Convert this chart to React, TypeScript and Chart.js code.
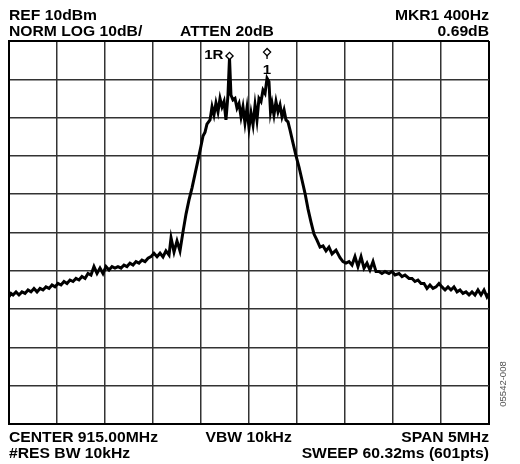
import React, { useEffect, useRef } from "react";
import { Chart, registerables } from "chart.js";

Chart.register(...registerables);

// Frequency offset from center (kHz) and trace level (dBm)
const freqKHz = [
  -2500, -2479, -2458, -2427, -2396, -2365, -2333, -2302, -2271, -2240,
  -2208, -2177, -2146, -2115, -2083, -2052, -2021, -1990, -1958, -1927,
  -1896, -1865, -1833, -1802, -1771, -1740, -1708, -1677, -1646, -1615,
  -1583, -1552, -1521, -1490, -1458, -1427, -1396, -1365, -1333, -1302,
  -1271, -1240, -1208, -1177, -1146, -1115, -1083, -1052, -1021, -990,
  -958, -927, -896, -865, -833, -812, -781, -750, -719, -688,
  -656, -625, -594, -562, -531, -500, -479, -458, -438, -406,
  -385, -365, -344, -323, -302, -281, -260, -240, -219, -203,
  -188, -167, -146, -125, -104, -83, -63, -42, -21, 0,
  21, 42, 63, 83, 104, 125, 146, 167, 188, 208,
  224, 240, 260, 281, 302, 323, 344, 365, 385, 406,
  427, 458, 490, 521, 552, 583, 615, 646, 677, 708,
  740, 771, 802, 833, 865, 906, 948, 979, 1010, 1042,
  1073, 1104, 1135, 1167, 1198, 1229, 1260, 1292, 1323, 1354,
  1385, 1417, 1458, 1490, 1521, 1563, 1594, 1625, 1667, 1698,
  1729, 1760, 1792, 1823, 1854, 1885, 1917, 1948, 1979, 2010,
  2042, 2073, 2104, 2135, 2167, 2198, 2229, 2260, 2292, 2323,
  2354, 2385, 2417, 2448, 2479, 2500,
];

const levelDbm = [
  -56.8, -55.9, -56.3, -55.5, -56.3, -55.5, -55.9, -55.0, -55.5, -54.6,
  -55.5, -54.6, -55.0, -54.2, -54.6, -53.7, -54.2, -53.3, -53.7, -52.8,
  -53.3, -52.4, -52.8, -52.0, -52.4, -51.5, -52.0, -50.7, -51.1, -48.9,
  -50.7, -49.3, -50.7, -48.9, -49.8, -48.9, -49.3, -48.9, -49.3, -48.5,
  -48.9, -48.0, -48.5, -47.6, -48.0, -47.2, -47.6, -46.7, -46.3, -45.4,
  -46.3, -45.4, -46.4, -44.8, -45.9, -41.4, -45.1, -42.2, -44.8, -39.9,
  -35.2, -31.5, -28.4, -24.7, -21.1, -17.4, -14.8, -13.8, -11.7, -10.6,
  -7.2, -9.3, -6.2, -8.5, -5.0, -7.2, -5.8, -10.6, -4.1, 5.6,
  -4.1, -5.4, -5.0, -7.5, -6.3, -9.8, -7.2, -11.4, -7.5, -12.7,
  -8.8, -11.9, -6.7, -10.6, -5.0, -5.8, -2.8, -3.7, 0.3, -0.6,
  -8.5, -6.3, -9.3, -5.8, -8.5, -6.7, -9.8, -8.0, -10.6, -11.1,
  -13.2, -16.6, -20.0, -22.9, -26.3, -29.7, -33.9, -37.3, -40.4, -42.0,
  -43.8, -43.5, -44.8, -43.8, -45.6, -44.6, -46.6, -47.6, -48.0, -47.6,
  -48.5, -46.3, -48.9, -46.3, -49.3, -48.0, -49.8, -47.6, -50.2, -50.2,
  -50.7, -50.2, -50.7, -50.2, -51.1, -50.7, -51.5, -51.1, -52.0, -52.0,
  -52.8, -52.4, -53.3, -53.3, -54.6, -53.7, -54.6, -54.2, -53.3, -54.2,
  -55.0, -54.2, -55.0, -54.2, -55.5, -55.0, -55.9, -55.5, -56.3, -55.5,
  -56.3, -55.0, -56.3, -55.0, -56.8, -55.9,
];

// Markers
const markerFreqKHz = [-203, 188];
const markerLevelDbm = [6.1, 7.1];
const markerLabels = ["1R", "1"];

// Axis setup
const spanMinKHz = -2500;
const spanMaxKHz = 2500;
const freqStepKHz = 500;
const refLevelDbm = 10;
const bottomLevelDbm = -90;
const dbPerDiv = 10;

// Annotation texts
const headerLeft = ["REF 10dBm", "NORM LOG 10dB/"];
const headerMid = "ATTEN 20dB";
const headerRight = ["MKR1 400Hz", "0.69dB"];
const footerLeft = ["CENTER 915.00MHz", "#RES BW 10kHz"];
const footerMid = "VBW 10kHz";
const footerRight = ["SPAN 5MHz", "SWEEP 60.32ms (601pts)"];
const figureId = "05542-008";

const FONT = 'bold 14px "Liberation Sans", Arial, sans-serif';
const SX = 1.12;

function drawStretched(ctx: CanvasRenderingContext2D, text: string, x: number, y: number, align: CanvasTextAlign, font = FONT) {
  ctx.save();
  ctx.translate(x, y);
  ctx.scale(SX, 1);
  ctx.font = font;
  ctx.textAlign = align;
  ctx.textBaseline = "alphabetic";
  ctx.fillStyle = "#000";
  ctx.fillText(text, 0, 0);
  ctx.restore();
}

const textPlugin = {
  id: "saText",
  afterDatasetsDraw(chart: any) {
    const ctx: CanvasRenderingContext2D = chart.ctx;
    const xs = chart.scales.x;
    const ys = chart.scales.y;
    const mfont = 'bold 13.5px "Liberation Sans", Arial, sans-serif';
    const x0 = xs.getPixelForValue(markerFreqKHz[0]);
    const y0 = ys.getPixelForValue(markerLevelDbm[0]);
    drawStretched(ctx, markerLabels[0], x0 - 6, y0 + 3, "right", mfont);
    const x1 = xs.getPixelForValue(markerFreqKHz[1]);
    const y1 = ys.getPixelForValue(markerLevelDbm[1]);
    ctx.save();
    ctx.strokeStyle = "#000";
    ctx.lineWidth = 1.3;
    ctx.beginPath();
    ctx.moveTo(x1, y1 + 3);
    ctx.lineTo(x1, y1 + 7);
    ctx.stroke();
    ctx.restore();
    drawStretched(ctx, markerLabels[1], x1, y1 + 22, "center", mfont);
  },
  afterDraw(chart: any) {
    const ctx: CanvasRenderingContext2D = chart.ctx;
    const a = chart.chartArea;
    const L = a.left;
    const R = a.right;
    drawStretched(ctx, headerLeft[0], L, 19.5, "left");
    drawStretched(ctx, headerLeft[1], L, 36, "left");
    drawStretched(ctx, headerMid, L + 171, 36, "left");
    drawStretched(ctx, headerRight[0], R, 19.5, "right");
    drawStretched(ctx, headerRight[1], R, 36, "right");
    drawStretched(ctx, footerLeft[0], a.left, a.bottom + 17.5, "left");
    drawStretched(ctx, footerLeft[1], a.left, a.bottom + 34, "left");
    drawStretched(ctx, footerMid, L + 196.5, a.bottom + 17.5, "left");
    drawStretched(ctx, footerRight[0], R, a.bottom + 17.5, "right");
    drawStretched(ctx, footerRight[1], R, a.bottom + 34, "right");
    ctx.save();
    ctx.translate(R + 14, a.bottom - 40);
    ctx.rotate(-Math.PI / 2);
    ctx.font = '9.5px "Liberation Sans", Arial, sans-serif';
    ctx.fillStyle = "#555";
    ctx.textAlign = "center";
    ctx.textBaseline = "middle";
    ctx.fillText(figureId, 0, 0);
    ctx.restore();
  },
};

export default function App() {
  const ref = useRef<HTMLCanvasElement | null>(null);
  useEffect(() => {
    document.body.style.margin = "0";
    const canvas = ref.current;
    if (!canvas) return;
    const isEdge = (c: any) => c.index === 0 || c.index === 10;
    const chart = new Chart(canvas, {
      type: "line",
      data: {
        datasets: [
          {
            type: "scatter",
            label: "markers",
            data: markerFreqKHz.map((f, i) => ({ x: f, y: markerLevelDbm[i] })),
            pointStyle: "rectRot",
            pointRadius: 3.6,
            pointBackgroundColor: "#fff",
            pointBorderColor: "#000",
            pointBorderWidth: 1.3,
            showLine: false,
          } as any,
          {
            label: "trace",
            data: freqKHz.map((f, i) => ({ x: f, y: levelDbm[i] })),
            borderColor: "#000",
            borderWidth: 3,
            pointRadius: 0,
            tension: 0,
            fill: false,
          },
        ],
      },
      options: {
        animation: false,
        responsive: false,
        devicePixelRatio: 1,
        layout: { padding: { left: 9, right: 31, top: 41, bottom: 40 } },
        plugins: { legend: { display: false }, tooltip: { enabled: false }, title: { display: false } },
        scales: {
          x: {
            type: "linear",
            min: spanMinKHz,
            max: spanMaxKHz,
            ticks: { stepSize: freqStepKHz, display: false },
            grid: {
              color: (c: any) => (isEdge(c) ? "#000" : "#333"),
              lineWidth: (c: any) => (isEdge(c) ? 2 : 1.5),
              drawTicks: false,
            },
            border: { display: true, color: "#000", width: 2 },
          },
          y: {
            type: "linear",
            min: bottomLevelDbm,
            max: refLevelDbm,
            ticks: { stepSize: dbPerDiv, display: false },
            grid: {
              color: (c: any) => (isEdge(c) ? "#000" : "#333"),
              lineWidth: (c: any) => (isEdge(c) ? 2 : 1.5),
              drawTicks: false,
            },
            border: { display: true, color: "#000", width: 2 },
          },
        },
      },
      plugins: [textPlugin],
    });
    return () => chart.destroy();
  }, []);
  return (
    <div style={{ width: 520, height: 464, background: "#fff" }}>
      <canvas ref={ref} width={520} height={464} style={{ display: "block" }} />
    </div>
  );
}
